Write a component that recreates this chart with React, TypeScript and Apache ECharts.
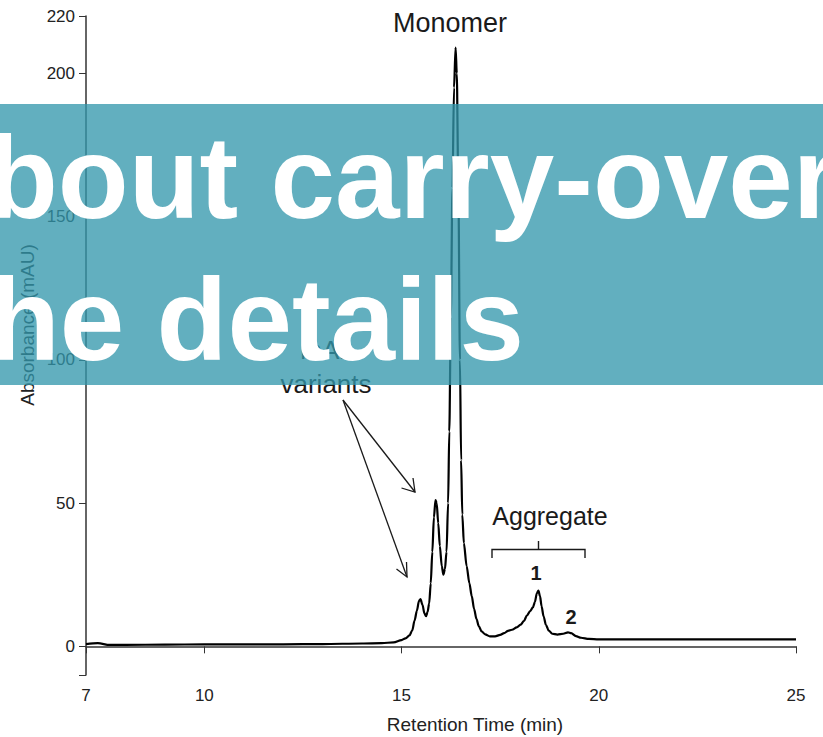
import React, { useEffect, useRef } from "react";
import * as echarts from "echarts";

const xTicks = [7, 10, 15, 20, 25];
const yTickLabels = [0, 50, 100, 150, 200, 220];
const yTickMarks = [-10, 0, 50, 100, 150, 200, 220];

const retentionTime = [
  7.0, 7.3, 7.6, 8.0, 9.0, 10.0, 11.0, 12.0, 13.0, 14.0, 14.5, 14.8, 15.0, 15.1, 15.2,
  15.27, 15.33, 15.39, 15.44, 15.48, 15.53, 15.58, 15.62, 15.66, 15.7, 15.74, 15.78,
  15.82, 15.86, 15.89, 15.93, 15.97, 16.02, 16.06, 16.1, 16.14, 16.18, 16.21, 16.25,
  16.29, 16.33, 16.37, 16.4, 16.44, 16.48, 16.51, 16.54, 16.58, 16.65, 16.72, 16.78,
  16.84, 16.9, 16.96, 17.03, 17.12, 17.24, 17.37, 17.5, 17.6, 17.7, 17.8, 17.92, 18.02,
  18.1, 18.18, 18.26, 18.33, 18.38, 18.43, 18.47, 18.51, 18.55, 18.6, 18.66, 18.73,
  18.82, 18.95, 19.1, 19.22, 19.3, 19.42, 19.55, 19.75, 20.0, 21, 22, 23, 24, 25,
];
const absorbance = [
  0.8, 1.1, 0.5, 0.5, 0.6, 0.7, 0.7, 0.7, 0.8, 1.0, 1.1, 1.4, 2.2, 2.8, 3.8,
  5.5, 9, 12.5, 15.8, 16.5, 14.5, 11.5, 10.5, 12, 15, 22, 33,
  45, 51, 50, 43, 35, 28, 25, 27, 33, 50, 75, 115,
  160, 195, 209, 200, 160, 100, 65, 46, 36, 28, 22, 17.5,
  13, 9.5, 7, 5.2, 4.2, 3.5, 3.5, 4, 4.6, 5.4, 5.8, 6.6, 7.6,
  8.8, 10.8, 12.3, 13.6, 15.5, 18.5, 19.5, 17.5, 14, 10.5, 7.5, 5.5,
  4.4, 4.1, 4.4, 4.9, 4.6, 3.6, 3.0, 2.6, 2.4, 2.4, 2.4, 2.4, 2.4, 2.4,
];

const FONT = "'Liberation Sans', Arial, Helvetica, sans-serif";

export default function App() {
  const ref = useRef<HTMLDivElement>(null);
  useEffect(() => {
    if (!ref.current) return;
    const chart = echarts.init(ref.current, undefined, { renderer: "svg" });
    const data = retentionTime.map((t, i) => [t, absorbance[i]]);
    const axisColor = "#333";
    const ann = "#1a1a1a";
    chart.setOption({
      animation: false,
      backgroundColor: "#ffffff",
      grid: { left: 86, right: 27, top: 16, bottom: 62, containLabel: false, outerBoundsMode: "none" },
      xAxis: {
        type: "value",
        min: 7,
        max: 25,
        axisLine: { show: true, lineStyle: { color: axisColor, width: 1.5 } },
        axisTick: { show: true, length: 7, customValues: xTicks, lineStyle: { color: axisColor, width: 1 } },
        axisLabel: { customValues: xTicks, color: "#222", fontSize: 17, fontFamily: FONT, margin: 12 },
        splitLine: { show: false },
      },
      yAxis: {
        type: "value",
        min: -10,
        max: 220,
        axisLine: { show: true, lineStyle: { color: axisColor, width: 1.5 } },
        axisTick: { show: true, length: 7, customValues: yTickMarks, lineStyle: { color: axisColor, width: 1 } },
        axisLabel: { customValues: yTickLabels, color: "#222", fontSize: 17, fontFamily: FONT, margin: 11 },
        splitLine: { show: false },
      },
      series: [
        {
          type: "line",
          data,
          showSymbol: false,
          smooth: 0.3,
          smoothMonotone: "x",
          lineStyle: { color: "#000", width: 2.2 },
          z: 3,
        },
      ],
      graphic: [
        { type: "text", x: 475, y: 724, z: 10, style: { text: "Retention Time (min)", font: `19px ${FONT}`, fill: "#222", align: "center", verticalAlign: "middle" } },
        { type: "text", x: 27, y: 325, rotation: Math.PI / 2, z: 10, style: { text: "Absorbance (mAU)", font: `19px ${FONT}`, fill: "#222", align: "center", verticalAlign: "middle" } },
        { type: "text", x: 450, y: 23, z: 10, style: { text: "Monomer", font: `27px ${FONT}`, fill: ann, align: "center", verticalAlign: "middle" } },
        { type: "text", x: 327, y: 350, z: 10, style: { text: "mAb", font: `26px ${FONT}`, fill: ann, align: "center", verticalAlign: "middle" } },
        { type: "text", x: 326, y: 384, z: 10, style: { text: "variants", font: `26px ${FONT}`, fill: ann, align: "center", verticalAlign: "middle" } },
        { type: "line", z: 10, shape: { x1: 343, y1: 400, x2: 415, y2: 492 }, style: { stroke: ann, lineWidth: 1.3 } },
        { type: "polyline", z: 10, shape: { points: [[401.5, 488], [415, 492], [413, 478]] }, style: { stroke: ann, lineWidth: 1.3, fill: null } },
        { type: "line", z: 10, shape: { x1: 343, y1: 400, x2: 407, y2: 577 }, style: { stroke: ann, lineWidth: 1.3 } },
        { type: "polyline", z: 10, shape: { points: [[396.5, 569], [407, 577], [406.5, 562]] }, style: { stroke: ann, lineWidth: 1.3, fill: null } },
        { type: "text", x: 550, y: 516, z: 10, style: { text: "Aggregate", font: `25px ${FONT}`, fill: ann, align: "center", verticalAlign: "middle" } },
        { type: "polyline", z: 10, shape: { points: [[492, 558], [492, 549.5], [585, 549.5], [585, 558]] }, style: { stroke: ann, lineWidth: 1.4, fill: null } },
        { type: "line", z: 10, shape: { x1: 538.5, y1: 549.5, x2: 538.5, y2: 541 }, style: { stroke: ann, lineWidth: 1.4 } },
        { type: "text", x: 536, y: 573, z: 10, style: { text: "1", font: `bold 20px ${FONT}`, fill: ann, align: "center", verticalAlign: "middle" } },
        { type: "text", x: 571, y: 617, z: 10, style: { text: "2", font: `bold 20px ${FONT}`, fill: ann, align: "center", verticalAlign: "middle" } },
        { type: "rect", z: 100, shape: { x: 0, y: 104, width: 823, height: 281 }, style: { fill: "rgba(51,151,172,0.77)" } },
        { type: "text", x: -13, y: 178, z: 101, style: { text: "bout carry-over", font: `bold 116px ${FONT}`, fill: "#ffffff", align: "left", verticalAlign: "middle" } },
        { type: "text", x: -11, y: 320, z: 101, style: { text: "he details", font: `bold 116px ${FONT}`, fill: "#ffffff", align: "left", verticalAlign: "middle" } },
      ],
    });
    return () => chart.dispose();
  }, []);
  return <div ref={ref} style={{ position: "fixed", left: 0, top: 0, width: 823, height: 737 }} />;
}
